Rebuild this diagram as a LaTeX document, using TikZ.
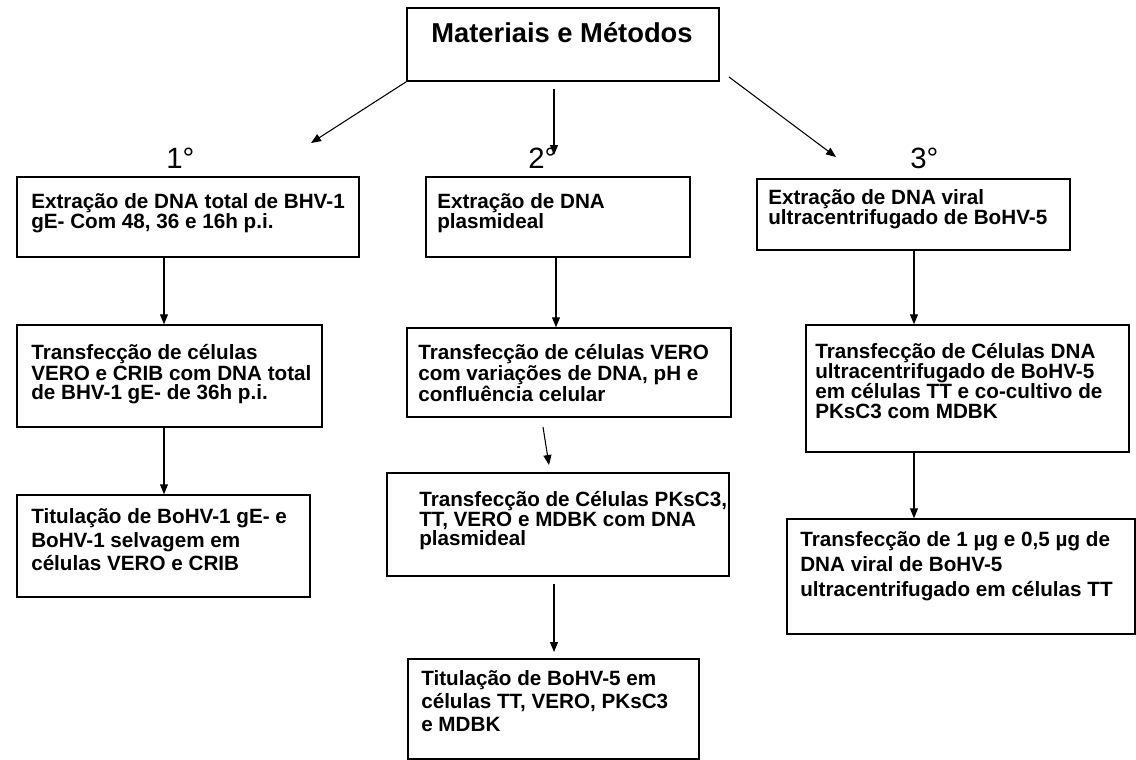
\documentclass[tikz,border=0pt]{standalone}
\usepackage{fontspec}
\setmainfont{Liberation Sans}
\usetikzlibrary{arrows.meta,fit}
\begin{document}
\begin{tikzpicture}[x=0.75pt,y=-0.75pt,
  box/.style={draw=black, line width=1.1pt, inner sep=0pt},
  txt/.style={anchor=north west, inner sep=0pt, align=left, font=\bfseries\fontsize{15.5}{#1}\selectfont},
  ttl/.style={anchor=base, inner sep=0pt, font=\bfseries\fontsize{20.5}{24}\selectfont},
  arr/.style={-{Triangle[length=7.5pt,width=6pt]}, line width=0.8pt},
  num/.style={anchor=base west, inner sep=0pt, font=\fontsize{22}{26}\selectfont}]
\useasboundingbox (0,0) rectangle (1136,760);

% title
\node[box, fit={(407,8) (719,81)}] (t) {};
\node[ttl] (tt) at (562,42) {Materiais e Métodos};

% labels
\node[num] (n1) at (166,168) {1°};
\node[num] (n2) at (528,168) {2°};
\node[num] (n3) at (910,168) {3°};

% column 1
\node[box, fit={(17,177) (359,257)}] (b1) {};
\node[txt=15] (t1) at (31,188.5) {\rule{0pt}{15pt}Extração de DNA total de BHV-1\\gE- Com 48, 36 e 16h p.i.};
\node[box, fit={(17,325) (322,427)}] (b2) {};
\node[txt=14.25] (t2) at (31,339.5) {\rule{0pt}{15pt}Transfecção de células\\VERO e CRIB com DNA total\\de BHV-1 gE- de 36h p.i.};
\node[box, fit={(17,495) (310,597)}] (b3) {};
\node[txt=17.6] (t3) at (31,503.5) {\rule{0pt}{15pt}Titulação de BoHV-1 gE- e\\BoHV-1 selvagem em\\células VERO e CRIB};

% column 2
\node[box, fit={(426,177) (690,257)}] (b4) {};
\node[txt=15] (t4) at (437,188.5) {\rule{0pt}{15pt}Extração de DNA\\plasmideal};
\node[box, fit={(407,328) (731,417)}] (b5) {};
\node[txt=14.25] (t5) at (418,339.5) {\rule{0pt}{15pt}Transfecção de células VERO\\com variações de DNA, pH e\\confluência celular};
\node[box, fit={(387,473) (729,576)}] (b6) {};
\node[txt=14.6] (t6) at (419,486.5) {\rule{0pt}{15pt}Transfecção de Células PKsC3,\\TT, VERO e MDBK com DNA\\plasmideal};
\node[box, fit={(408,659) (699,759)}] (b7) {};
\node[txt=17.25] (t7) at (421,665.5) {\rule{0pt}{15pt}Titulação de BoHV-5 em\\células TT, VERO, PKsC3\\e MDBK};

% column 3
\node[box, fit={(757,179) (1070,250)}] (b8) {};
\node[txt=15] (t8) at (768,184.5) {\rule{0pt}{15pt}Extração de DNA viral\\ultracentrifugado de BoHV-5};
\node[box, fit={(806,325) (1129,452)}] (b9) {};
\node[txt=14.5] (t9) at (815,338.5) {\rule{0pt}{15pt}Transfecção de Células DNA\\ultracentrifugado de BoHV-5\\em células TT e co-cultivo de\\PKsC3 com MDBK};
\node[box, fit={(787,519) (1135,634)}] (b10) {};
\node[txt=18.75] (t10) at (800,526.5) {\rule{0pt}{15pt}Transfecção de 1 µg e 0,5 µg de\\DNA viral de BoHV-5\\ultracentrifugado em células TT};

% arrows from title
\coordinate (e1) at (311,143);
\coordinate (s2) at (554,89);
\coordinate (e2) at (554,155);
\coordinate (s3) at (729,77);
\coordinate (e3) at (836,157);
\draw[arr] (t.south west) -- (e1);
\draw[arr] (s2) -- (e2);
\draw[arr] (s3) -- (e3);

% column arrows
\coordinate (x1) at (164,0);
\coordinate (x2) at (556,0);
\coordinate (x3) at (914,0);
\draw[arr] (b1.south -| x1) -- (b2.north -| x1);
\draw[arr] (b2.south -| x1) -- (b3.north -| x1);
\draw[arr] (b4.south -| x2) -- (b5.north -| x2);
\coordinate (m1) at (543,427);
\coordinate (m2) at (549,465);
\draw[arr] (m1) -- (m2);
\coordinate (m3) at (554,584);
\coordinate (m4) at (554,652);
\draw[arr] (m3) -- (m4);
\draw[arr] (b8.south -| x3) -- (b9.north -| x3);
\draw[arr] (b9.south -| x3) -- (b10.north -| x3);
\end{tikzpicture}
\end{document}
